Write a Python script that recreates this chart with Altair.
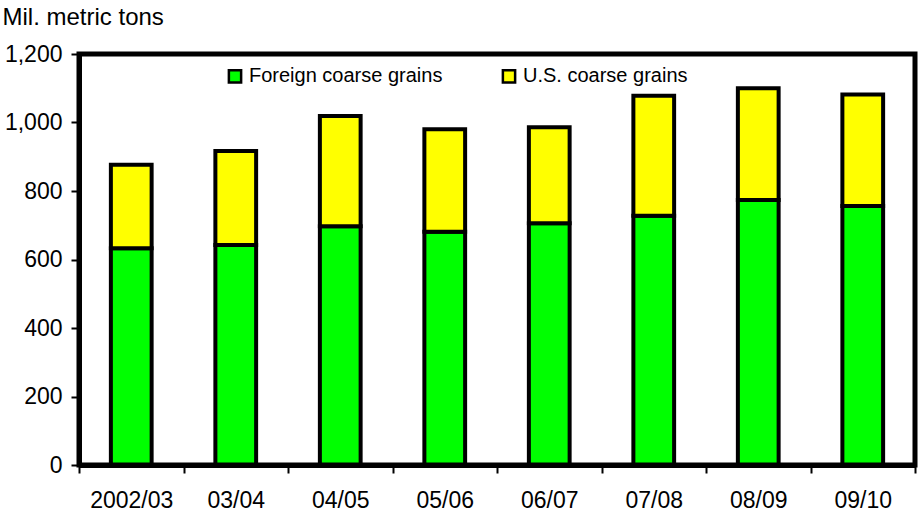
import altair as alt
import pandas as pd

years = ["2002/03", "03/04", "04/05", "05/06", "06/07", "07/08", "08/09", "09/10"]
foreign = [633, 642, 697, 681, 706, 728, 774, 756]
us = [244, 275, 322, 299, 280, 350, 326, 326]
series = ["Foreign coarse grains", "U.S. coarse grains"]
colors = ["#00FF00", "#FFFF00"]

rows = []
for i, y in enumerate(years):
    rows.append({"year": y, "series": series[0], "value": foreign[i], "ord": 0})
    rows.append({"year": y, "series": series[1], "value": us[i], "ord": 1})
df = pd.DataFrame(rows)

FONT = "Liberation Sans"

bars = alt.Chart(df).mark_bar(
    stroke="#000000", strokeWidth=4, width=alt.RelativeBandSize(0.39)
).encode(
    x=alt.X("year:N", sort=years, title=None,
            scale=alt.Scale(paddingInner=0, paddingOuter=0),
            axis=alt.Axis(labelAngle=0, tickBand="extent", ticks=True, tickSize=8,
                          tickWidth=2, tickColor="#000000",
                          domainColor="#000000", domainWidth=5,
                          labelFont=FONT, labelFontSize=23, labelColor="black",
                          labelPadding=16)),
    y=alt.Y("value:Q", stack="zero", title="Mil. metric tons",
            scale=alt.Scale(domain=[0, 1200], nice=False),
            axis=alt.Axis(values=[0, 200, 400, 600, 800, 1000, 1200], format=",.0f",
                          grid=False, ticks=True, tickSize=8, tickWidth=2,
                          tickColor="#000000",
                          domainColor="#000000", domainWidth=5,
                          labelFont=FONT, labelFontSize=23, labelColor="black",
                          labelPadding=9,
                          titleAngle=0, titleAlign="left", titleBaseline="alphabetic",
                          titleX=-77, titleY=-30, titleFont=FONT, titleFontSize=24,
                          titleFontWeight="normal", titleColor="black")),
    color=alt.Color("series:N", scale=alt.Scale(domain=series, range=colors),
                    legend=alt.Legend(title=None, orient="none", legendX=146, legendY=12,
                                      direction="horizontal", columns=2, columnPadding=54,
                                      symbolType="square", symbolSize=150,
                                      symbolStrokeColor="black", symbolStrokeWidth=2.5,
                                      symbolOpacity=1, labelFont=FONT, labelFontSize=20,
                                      labelLimit=400,
                                      labelColor="black", labelOffset=4, padding=0)),
    order=alt.Order("ord:Q", sort="ascending"),
)

frame = alt.Chart(pd.DataFrame({"a": [0]})).mark_rect(
    fill=None, stroke="#000000", strokeWidth=5
).encode(x=alt.value(0), x2=alt.value(836), y=alt.value(0), y2=alt.value(411))

chart = alt.layer(bars, frame).properties(
    width=836, height=411,
    background="white",
    autosize=alt.AutoSizeParams(type="none"),
    padding={"left": 79, "top": 54, "right": 4, "bottom": 48},
).configure_view(stroke=None)

chart.save("out.html", embed_options={"renderer": "svg", "actions": False})
